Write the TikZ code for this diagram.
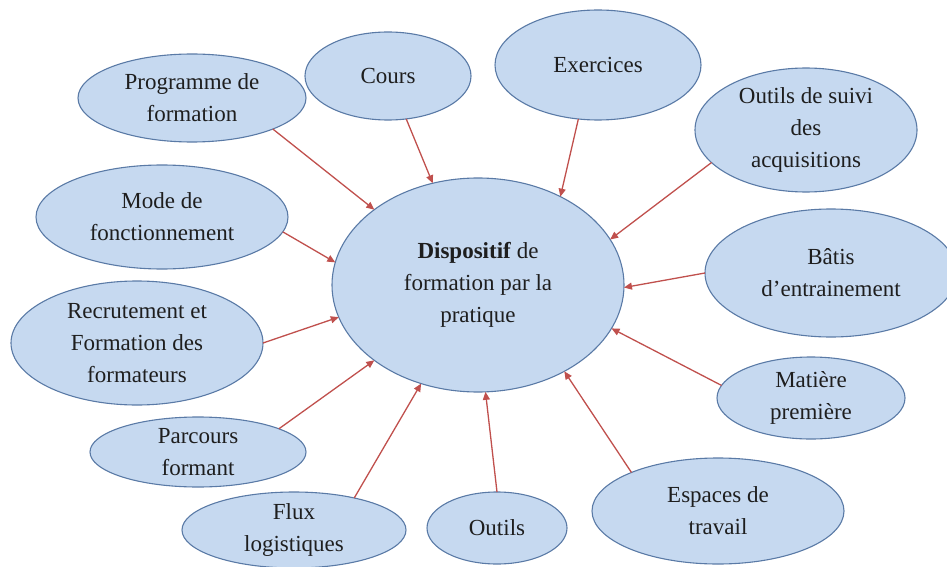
\documentclass[tikz,border=0pt]{standalone}
\usepackage{fontspec}
\setmainfont{Liberation Serif}
\usetikzlibrary{shapes.geometric,arrows.meta}
\definecolor{efill}{HTML}{C6D9F0}
\definecolor{eline}{HTML}{5A7AA6}
\definecolor{arr}{HTML}{C0504D}
\definecolor{txt}{HTML}{1E1E1E}
\begin{document}
\begin{tikzpicture}[x=1pt,y=-1pt,
 bub/.style={ellipse,draw=eline,fill=efill,line width=1.1pt,inner xsep=0pt,inner ysep=-16pt,outer sep=0pt,align=center,text=txt,font=\fontsize{23}{32}\selectfont},
 link/.style={draw=arr,line width=1.3pt,-{Triangle[length=8pt,width=7pt]}}]
\useasboundingbox (0,0) rectangle (947,567);
\node[bub,minimum width=292pt,minimum height=214pt] (main) at (478,285) {\textbf{Dispositif} de\\formation par la\\pratique};
\node[bub,minimum width=228pt,minimum height=88pt] (prog) at (192,98) {Programme de\\formation};
\node[bub,minimum width=166pt,minimum height=88pt] (cours) at (388,76) {Cours};
\node[bub,minimum width=206pt,minimum height=110pt] (exo) at (598,65) {Exercices};
\node[bub,minimum width=222pt,minimum height=124pt] (suivi) at (806,130) {Outils de suivi\\des\\acquisitions};
\node[bub,minimum width=252pt,minimum height=104pt] (mode) at (162,217) {Mode de\\fonctionnement};
\node[bub,minimum width=252pt,minimum height=128pt] (batis) at (831,273) {B\^atis\\d'entrainement};
\node[bub,minimum width=252pt,minimum height=124pt] (recru) at (137,343) {Recrutement et\\Formation des\\formateurs};
\node[bub,minimum width=188pt,minimum height=82pt] (mat) at (811,398) {Mati\`ere\\premi\`ere};
\node[bub,minimum width=216pt,minimum height=70pt] (parc) at (198,452) {Parcours\\formant};
\node[bub,minimum width=224pt,minimum height=76pt] (flux) at (294,530) {Flux\\logistiques};
\node[bub,minimum width=140pt,minimum height=72pt] (outils) at (497,528) {Outils};
\node[bub,minimum width=252pt,minimum height=106pt] (esp) at (718,511) {Espaces de\\travail};
\draw[link] (prog.-21.6) -- (main.144.5);
\draw[link] (cours.-67.8) -- (main.114.3);
\draw[link] (exo.-110.9) -- (main.47.3);
\draw[link] (suivi.199) -- (main.19.7);
\draw[link] (mode.-7.7) -- (main.171.8);
\draw[link] (batis.180) -- (main.-1.2);
\draw[link] (recru.0) -- (main.193.6);
\draw[link] (mat.172.5) -- (main.342);
\draw[link] (parc.16.3) -- (main.216.3);
\draw[link] (flux.28.9) -- (main.240.1);
\draw[link] (outils.90) -- (main.274.2);
\draw[link] (esp.156.9) -- (main.315);
\end{tikzpicture}
\end{document}
